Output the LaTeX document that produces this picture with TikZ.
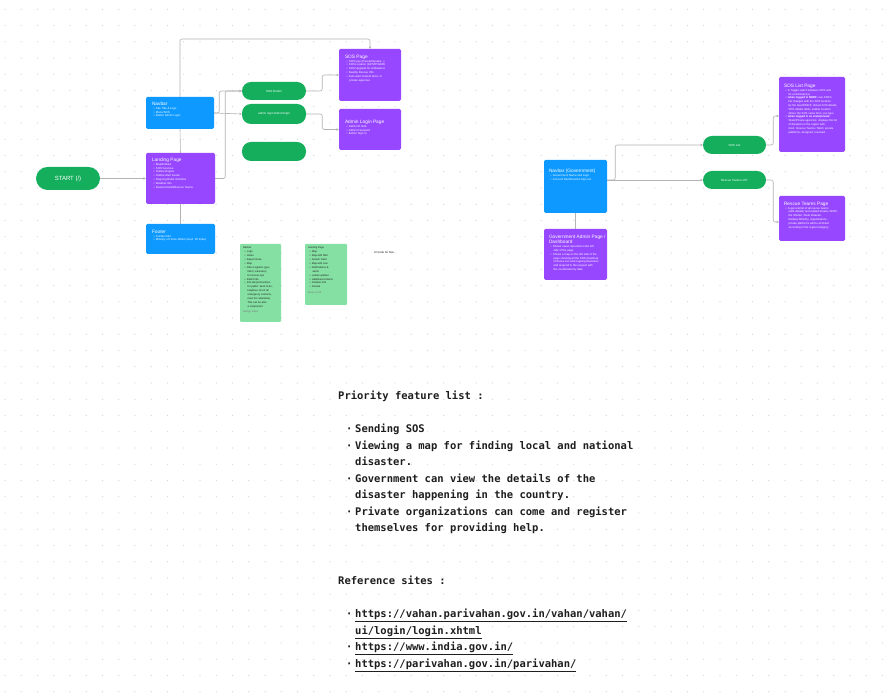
\documentclass[tikz,border=0pt]{standalone}
\usepackage{fontspec}
\setmainfont{Liberation Sans}
\newfontfamily\notemono{DejaVu Sans Mono}
\usetikzlibrary{arrows.meta,positioning}

\definecolor{navblue}{HTML}{0D99FF}
\definecolor{pagepurple}{HTML}{9747FF}
\definecolor{btngreen}{HTML}{14AE5C}
\definecolor{notegreen}{HTML}{85E0A3}
\definecolor{wiregray}{HTML}{B3B3B3}
\definecolor{dotgray}{HTML}{D4D4D4}
\definecolor{inkgray}{HTML}{1E1E1E}

\tikzset{
  wire/.style={draw=wiregray, line width=0.6pt, rounded corners=2pt},
  wirearrow/.style={wire, -{Stealth[length=2.5pt,width=2.5pt]}},
  card/.style={rectangle, rounded corners=1.5pt, inner sep=0pt},
  bluecard/.style={card, fill=navblue},
  purplecard/.style={card, fill=pagepurple},
  notecard/.style={card, fill=notegreen, rounded corners=1pt},
  pill/.style={rectangle, rounded corners=9pt, fill=btngreen, text=white,
    font=\fontsize{3}{4}\selectfont, inner sep=0pt, minimum width=64pt, minimum height=18pt},
  cardtext/.style={anchor=north west, inner sep=0pt, align=left, text=white,
    font=\fontsize{2.8}{3.8}\selectfont},
  notetext/.style={cardtext, text=inkgray, font=\fontsize{2.6}{3.9}\selectfont},
  doc/.style={anchor=north west, inner sep=0pt, align=left, text=inkgray,
    font=\notemono\bfseries\fontsize{10.5}{16.5}\selectfont}
}

\newcommand{\cardhead}[1]{{\fontsize{4.8}{6}\selectfont #1}}
\newcommand{\cb}{\hspace*{1.5pt}\textbullet\hspace{1.5pt}}
\newcommand{\cc}{\hspace*{4.6pt}}
\newcommand{\db}{\makebox[9pt][l]{\textperiodcentered}}
\newcommand{\dc}{\hspace*{9pt}}

\begin{document}
\begin{tikzpicture}[x=1pt,y=1pt]
  \fill[white] (0,0) rectangle (895,696);
  \useasboundingbox (0,0) rectangle (895,696);
  \foreach \i in {0,...,55} {
    \foreach \j in {0,...,43} {
      \fill[dotgray] (5+16.25*\i, 686.75-16.25*\j) circle (0.7);
    }
  }

  \node[pill, minimum width=64pt, minimum height=23pt, rounded corners=11.5pt,
    font=\fontsize{6}{7}\selectfont] (start) at (68,517.5) {START (/)};

  \node[bluecard, minimum width=68pt, minimum height=32pt] (navbar) at (180,583) {};
  \node[cardtext] (navbartext) at ([shift={(6,-5)}]navbar.north west)
    {\cardhead{Navbar}\\ \cb Site Title \& Logo\\ \cb Menu/SOS\\ \cb Button Admin Login};
  \node[purplecard, minimum width=69pt, minimum height=51pt] (landing) at (180.5,517.5) {};
  \node[cardtext] (landingtext) at ([shift={(6,-5)}]landing.north west)
    {\cardhead{Landing Page}\\ \cb Map/Embed\\ \cb SOS Services\\ \cb Hotline Engine\\
     \cb Hotline Alert Feeds\\ \cb Ongoing Relief Activities\\ \cb Weather info\\
     \cb Nearest Relief/Rescue Teams};
  \node[bluecard, minimum width=69pt, minimum height=30pt] (footer) at (180.5,457) {};
  \node[cardtext] (footertext) at ([shift={(6,-6)}]footer.north west)
    {\cardhead{Footer}\\ \cb Contact Info\\ \cb Ministry of Home Affairs (Govt. Of India)};

  \node[pill] (sosbtn) at (274,605) {SOS Button};
  \node[pill, minimum height=20pt] (adminbtn) at (274,582) {admin login button/login};
  \node[pill, minimum height=19pt] (blankbtn) at (274,544.5) {};

  \node[purplecard, minimum width=62pt, minimum height=52pt] (sospage) at (370,621) {};
  \node[cardtext] (sospagetext) at ([shift={(6,-6)}]sospage.north west)
    {\cardhead{SOS Page}\\ \cb SOS type (fire/earthquake...)\\ \cb SOS Location (GPS/IP/GEO)\\
     \cb SOS Upgrade for Ambulance\\ \cb Nearby Rescue Info\\ \cb Auto-alert nearest Govt. or\\
     \cc private agencies};
  \node[purplecard, minimum width=62pt, minimum height=41pt] (adminpage) at (370,566.5) {};
  \node[cardtext] (adminpagetext) at ([shift={(6,-11)}]adminpage.north west)
    {\cardhead{Admin Login Page}\\ \cb Admin ID field\\ \cb Admin Password\\ \cb Button Sign In};

  \node[notecard, minimum width=41pt, minimum height=78pt] (navnote) at (260.5,413) {};
  \node[notetext] (navnotetext) at ([shift={(3,-3)}]navnote.north west)
    {Navbar\\ \cb Logo\\ \cb Home\\ \cb Report Issue\\ \cb Map\\ \cb Filter Logistics (gov,\\
     \cc NGO, volunteer)\\ \cc for rescue ops\\ \cb Relief Info\\ \cb Info tab (instructions\\
     \cc for public: what to do,\\ \cc helplines, list of all\\ \cc emergency contacts,\\
     \cc rules for calamities).\\ \cc This can be also\\ \cc a component\\[1.5pt]
     {\color{inkgray!60}Design notes}};
  \node[notecard, minimum width=42pt, minimum height=61pt] (landnote) at (326,421.5) {};
  \node[notetext] (landnotetext) at ([shift={(3,-3)}]landnote.north west)
    {Landing Page\\ \cb Map\\ \cb Map with filter\\ \cb Search Field\\ \cb Map with Live\\
     \cb Notifications \&\\ \cc alerts\\ \cb Latest updates\\ \cb Helplines/contacts\\
     \cb Disaster info\\ \cb Donate\\[1.5pt] {\color{inkgray!60}Ideas so far}};
  \node[inner sep=0pt, text=inkgray, font=\fontsize{2.8}{3.8}\selectfont] (uicode) at (384,443) {UI Code for Nav};

  \node[bluecard, minimum width=63pt, minimum height=53pt] (govnav) at (575.5,509.5) {};
  \node[cardtext] (govnavtext) at ([shift={(5,-9)}]govnav.north west)
    {\cardhead{Navbar (Government)}\\ \cb Government Name and Logo\\ \cb Account Dashboard \& Sign out};
  \node[purplecard, minimum width=63pt, minimum height=51pt] (govadmin) at (575.5,441.5) {};
  \node[cardtext] (govadmintext) at ([shift={(5,-6)}]govadmin.north west)
    {\cardhead{Government Admin Page /}\\ \cardhead{Dashboard}\\ \cb Shows cases reported on the left\\
     \cc side of the page\\ \cb Shows a map on the left side of the\\ \cc page showing all the SOS (heatmap\\
     \cc of dense sos and ongoing disasters)\\ \cc and respond to the request with\\ \cc the coordinates by date.};

  \node[pill, minimum width=63pt] (soslistbtn) at (734.5,551) {SOS List};
  \node[pill, minimum width=63pt] (rescuebtn) at (734.5,516) {Rescue Teams LIST};

  \node[purplecard, minimum width=66pt, minimum height=75pt] (soslist) at (812,581.5) {};
  \node[cardtext] (soslisttext) at ([shift={(5,-7)}]soslist.north west)
    {\cardhead{SOS List Page}\\ \cb A Toggle switch between SOS and\\ \cc its coordinates(s)\\
     \cb \textbf{when logged in NDRF:} see SOS's\\ \cc list changes with the SOS location\\
     \cc by the Govt/NDRF; shows SOS details,\\ \cc SOS details table; enable location\\
     \cc where the SOS came from, sos type\\ \cb \textbf{when logged in as state/private:}\\
     \cc State/Private agencies: displays the list\\ \cc of disasters in the region with\\
     \cc Govt. Rescue Teams / NGO, private\\ \cc platforms, assigned, resolved.};
  \node[purplecard, minimum width=66pt, minimum height=45pt] (rescuepage) at (812,477.5) {};
  \node[cardtext] (rescuepagetext) at ([shift={(5,-6)}]rescuepage.north west)
    {\cardhead{Rescue Teams Page}\\ \cb A general list of all rescue teams\\
     \cc (with details) and related details, NDRF,\\ \cc the Shelter, State Disaster,\\
     \cc Railway Ministry, organizations,\\ \cc private platforms will be all listed\\
     \cc according to the region/category.};

  \coordinate (topbend) at (370,657);
  \draw[wirearrow] (start.east) -- (landing.west);
  \draw[wirearrow] (navbar.north) |- (topbend) -- (sospage.north);
  \draw[wire] (navbar.south) -- (landing.north);
  \draw[wire] (landing.south) -- (footer.north);
  \draw[wirearrow] (navbar.east) -- ++(5,0) |- (sosbtn.west);
  \draw[wirearrow] (navbar.east) -- (adminbtn.west);
  \draw[wirearrow] (landing.east) -- ++(10,0) |- (sosbtn.west);
  \draw[wirearrow] (sosbtn.east) -- ++(16,0) |- (sospage.west);
  \draw[wirearrow] (adminbtn.east) -- ++(16,0) |- (adminpage.west);
  \draw[wire] (govnav.south) -- (govadmin.north);
  \draw[wirearrow] ([yshift=6.5pt]govnav.east) -- (rescuebtn.west);
  \draw[wirearrow] ([yshift=6.5pt]govnav.east) -- ++(8,0) |- (soslistbtn.west);
  \draw[wirearrow] (soslistbtn.east) -- ++(7,0) |- ([yshift=-1.5pt]soslist.west);
  \draw[wirearrow] (rescuebtn.east) -- ++(7,0) |- ([yshift=-3.5pt]rescuepage.west);

  \node[doc] (prioritytitle) at (338,305) {Priority feature list :};
  \node[doc] (featurelist) at (346,272)
    {\db Sending SOS\\ \db Viewing a map for finding local and national\\ \dc disaster.\\
     \db Government can view the details of the\\ \dc disaster happening in the country.\\
     \db Private organizations can come and register\\ \dc themselves for providing help.};
  \node[doc] (refstitle) at (338,120) {Reference sites :};
  \node[doc] (reflist) at (346,87)
    {\db\underline{https://vahan.parivahan.gov.in/vahan/vahan/}\\ \dc\underline{ui/login/login.xhtml}\\
     \db\underline{https://www.india.gov.in/}\\ \db\underline{https://parivahan.gov.in/parivahan/}};
\end{tikzpicture}
\end{document}
